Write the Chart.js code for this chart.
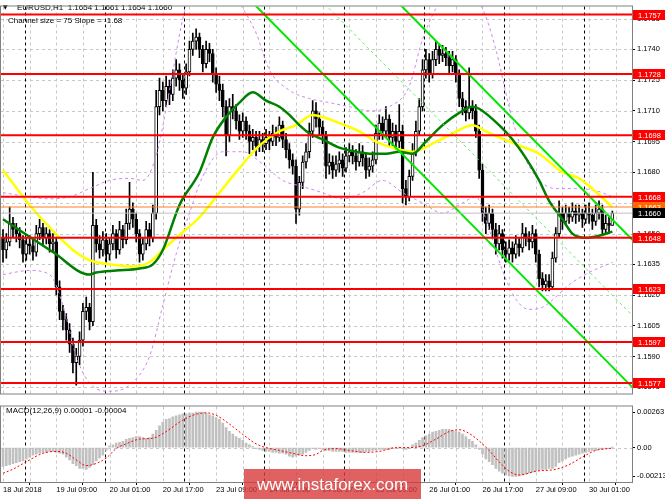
<!DOCTYPE html>
<html>
<head>
<meta charset="utf-8">
<script src="https://cdn.jsdelivr.net/npm/chart.js@4.4.0/dist/chart.umd.min.js"></script>
<style>
  html, body { margin: 0; padding: 0; background: #fff; }
  #wrap { position: relative; width: 665px; height: 499px; overflow: hidden; }
  #main { position: absolute; left: 0; top: 0; }
  #macd { position: absolute; left: 0; top: 400px; }
  #mark { position: absolute; left: 244px; top: 469px; width: 177px; height: 30px;
          background: rgba(216, 58, 58, 0.8); color: #fff; text-align: center;
          font: 17px "Liberation Sans", Arial, sans-serif; line-height: 32px; }
</style>
</head>
<body>
<div id="wrap">
  <canvas id="main" width="665" height="400"></canvas>
  <canvas id="macd" width="665" height="99"></canvas>
  <div id="mark">www.instaforex.com</div>
</div>
<script>
// EURUSD H1, 18 Jul 17:00 .. 30 Jul 08:00, one entry per bar
const open = [
  1.1648, 1.1642, 1.1646, 1.1655, 1.1652, 1.1650, 1.1647, 1.1640,
  1.1645, 1.1644, 1.1641, 1.1650, 1.1653, 1.1648, 1.1650, 1.1645,
  1.1646, 1.1624, 1.1612, 1.1608, 1.1603, 1.1596, 1.1587, 1.1590,
  1.1598, 1.1612, 1.1614, 1.1607, 1.1654, 1.1645, 1.1642, 1.1647,
  1.1640, 1.1645, 1.1650, 1.1642, 1.1652, 1.1647, 1.1655, 1.1662,
  1.1657, 1.1650, 1.1640, 1.1645, 1.1652, 1.1648, 1.1660, 1.1712,
  1.1720, 1.1715, 1.1722, 1.1718, 1.1726, 1.1730, 1.1725, 1.1721,
  1.1729, 1.1740, 1.1744, 1.1746, 1.1740, 1.1733, 1.1740, 1.1738,
  1.1728, 1.1723, 1.1720, 1.1712, 1.1698, 1.1712, 1.1710, 1.1705,
  1.1700, 1.1705, 1.1700, 1.1695, 1.1697, 1.1693, 1.1696, 1.1694,
  1.1697, 1.1695, 1.1699, 1.1697, 1.1703, 1.1696, 1.1691, 1.1686,
  1.1683, 1.1662, 1.1675, 1.1685, 1.1690, 1.1700, 1.1710, 1.1706,
  1.1702, 1.1698, 1.1683, 1.1685, 1.1681, 1.1684, 1.1686, 1.1682,
  1.1688, 1.1690, 1.1688, 1.1685, 1.1690, 1.1687, 1.1681, 1.1683,
  1.1686, 1.1699, 1.1704, 1.1700, 1.1706, 1.1697, 1.1700, 1.1695,
  1.1700, 1.1672, 1.1668, 1.1678, 1.1690, 1.1700, 1.1712, 1.1730,
  1.1735, 1.1728, 1.1735, 1.1740, 1.1737, 1.1738, 1.1736, 1.1732,
  1.1735, 1.1728, 1.1716, 1.1712, 1.1709, 1.1712, 1.1710, 1.1700,
  1.1681, 1.1660, 1.1655, 1.1660, 1.1652, 1.1645, 1.1650, 1.1642,
  1.1640, 1.1643, 1.1640, 1.1645, 1.1643, 1.1650, 1.1648, 1.1646,
  1.1650, 1.1640, 1.1628, 1.1625, 1.1627, 1.1624, 1.1638, 1.1650,
  1.1660, 1.1656, 1.1660, 1.1658, 1.1661, 1.1659, 1.1660, 1.1657,
  1.1660, 1.1659, 1.1656, 1.1660, 1.1662, 1.1652, 1.1655, 1.1654
];
const high = [
  1.1652, 1.1650, 1.1663, 1.1658, 1.1655, 1.1653, 1.1649, 1.1648,
  1.1649, 1.1647, 1.1654, 1.1657, 1.1655, 1.1653, 1.1652, 1.1650,
  1.1648, 1.1627, 1.1615, 1.1611, 1.1606, 1.1599, 1.1594, 1.1602,
  1.1616, 1.1619, 1.1616, 1.1680, 1.1657, 1.1649, 1.1651, 1.1650,
  1.1648, 1.1654, 1.1652, 1.1656, 1.1654, 1.1662, 1.1675, 1.1665,
  1.1660, 1.1652, 1.1648, 1.1656, 1.1655, 1.1664, 1.1720, 1.1726,
  1.1724, 1.1727, 1.1725, 1.1730, 1.1735, 1.1733, 1.1728, 1.1733,
  1.1744, 1.1748, 1.1750, 1.1748, 1.1742, 1.1744, 1.1743, 1.1740,
  1.1731, 1.1727, 1.1723, 1.1715, 1.1716, 1.1718, 1.1713, 1.1708,
  1.1709, 1.1707, 1.1703, 1.1701, 1.1700, 1.1700, 1.1699, 1.1701,
  1.1700, 1.1703, 1.1702, 1.1707, 1.1705, 1.1699, 1.1694, 1.1689,
  1.1686, 1.1678, 1.1688, 1.1694, 1.1704, 1.1715, 1.1714, 1.1709,
  1.1705, 1.1700, 1.1689, 1.1688, 1.1688, 1.1690, 1.1689, 1.1692,
  1.1694, 1.1693, 1.1691, 1.1694, 1.1693, 1.1689, 1.1687, 1.1690,
  1.1703, 1.1708, 1.1707, 1.1712, 1.1708, 1.1704, 1.1703, 1.1713,
  1.1703, 1.1676, 1.1681, 1.1694, 1.1705, 1.1716, 1.1735, 1.1740,
  1.1738, 1.1739, 1.1744, 1.1742, 1.1742, 1.1741, 1.1739, 1.1739,
  1.1737, 1.1730, 1.1719, 1.1715, 1.1731, 1.1715, 1.1713, 1.1703,
  1.1684, 1.1663, 1.1664, 1.1662, 1.1655, 1.1654, 1.1652, 1.1646,
  1.1647, 1.1646, 1.1649, 1.1648, 1.1655, 1.1653, 1.1651, 1.1654,
  1.1652, 1.1642, 1.1631, 1.1630, 1.1630, 1.1641, 1.1653, 1.1666,
  1.1663, 1.1664, 1.1663, 1.1665, 1.1664, 1.1664, 1.1662, 1.1664,
  1.1665, 1.1662, 1.1664, 1.1666, 1.1664, 1.1659, 1.1658, 1.1661
];
const low = [
  1.1636, 1.1638, 1.1644, 1.1648, 1.1646, 1.1643, 1.1636, 1.1637,
  1.1640, 1.1637, 1.1639, 1.1647, 1.1644, 1.1645, 1.1641, 1.1641,
  1.1620, 1.1608, 1.1603, 1.1598, 1.1592, 1.1582, 1.1576, 1.1586,
  1.1595, 1.1608, 1.1603, 1.1605, 1.1641, 1.1638, 1.1639, 1.1636,
  1.1637, 1.1642, 1.1638, 1.1640, 1.1643, 1.1645, 1.1652, 1.1653,
  1.1646, 1.1636, 1.1637, 1.1642, 1.1644, 1.1646, 1.1657, 1.1708,
  1.1710, 1.1712, 1.1713, 1.1715, 1.1722, 1.1720, 1.1716, 1.1718,
  1.1727, 1.1737, 1.1740, 1.1736, 1.1729, 1.1731, 1.1734, 1.1724,
  1.1719, 1.1715, 1.1707, 1.1688, 1.1695, 1.1706, 1.1701, 1.1696,
  1.1697, 1.1696, 1.1689, 1.1691, 1.1688, 1.1690, 1.1690, 1.1691,
  1.1691, 1.1693, 1.1693, 1.1695, 1.1692, 1.1687, 1.1682, 1.1679,
  1.1655, 1.1659, 1.1672, 1.1682, 1.1687, 1.1697, 1.1702, 1.1698,
  1.1694, 1.1677, 1.1679, 1.1677, 1.1678, 1.1680, 1.1678, 1.1680,
  1.1685, 1.1684, 1.1681, 1.1683, 1.1683, 1.1677, 1.1678, 1.1680,
  1.1684, 1.1696, 1.1696, 1.1697, 1.1693, 1.1693, 1.1691, 1.1692,
  1.1665, 1.1664, 1.1666, 1.1676, 1.1688, 1.1698, 1.1710, 1.1726,
  1.1724, 1.1726, 1.1732, 1.1733, 1.1734, 1.1732, 1.1728, 1.1729,
  1.1724, 1.1712, 1.1708, 1.1705, 1.1706, 1.1706, 1.1697, 1.1677,
  1.1656, 1.1650, 1.1652, 1.1648, 1.1640, 1.1642, 1.1638, 1.1636,
  1.1637, 1.1636, 1.1638, 1.1639, 1.1641, 1.1644, 1.1642, 1.1643,
  1.1636, 1.1624, 1.1622, 1.1622, 1.1622, 1.1623, 1.1636, 1.1648,
  1.1652, 1.1654, 1.1655, 1.1656, 1.1655, 1.1656, 1.1653, 1.1655,
  1.1655, 1.1652, 1.1654, 1.1657, 1.1649, 1.1650, 1.1650, 1.1654
];
const close = [
  1.1642, 1.1646, 1.1655, 1.1652, 1.1650, 1.1647, 1.1640, 1.1645,
  1.1644, 1.1641, 1.1650, 1.1653, 1.1648, 1.1650, 1.1645, 1.1646,
  1.1624, 1.1612, 1.1608, 1.1603, 1.1596, 1.1587, 1.1590, 1.1598,
  1.1612, 1.1614, 1.1607, 1.1654, 1.1645, 1.1642, 1.1647, 1.1640,
  1.1645, 1.1650, 1.1642, 1.1652, 1.1647, 1.1655, 1.1662, 1.1657,
  1.1650, 1.1640, 1.1645, 1.1652, 1.1648, 1.1660, 1.1712, 1.1720,
  1.1715, 1.1722, 1.1718, 1.1726, 1.1730, 1.1725, 1.1721, 1.1729,
  1.1740, 1.1744, 1.1746, 1.1740, 1.1733, 1.1740, 1.1738, 1.1728,
  1.1723, 1.1720, 1.1712, 1.1698, 1.1712, 1.1710, 1.1705, 1.1700,
  1.1705, 1.1700, 1.1695, 1.1697, 1.1693, 1.1696, 1.1694, 1.1697,
  1.1695, 1.1699, 1.1697, 1.1703, 1.1696, 1.1691, 1.1686, 1.1683,
  1.1662, 1.1675, 1.1685, 1.1690, 1.1700, 1.1710, 1.1706, 1.1702,
  1.1698, 1.1683, 1.1685, 1.1681, 1.1684, 1.1686, 1.1682, 1.1688,
  1.1690, 1.1688, 1.1685, 1.1690, 1.1687, 1.1681, 1.1683, 1.1686,
  1.1699, 1.1704, 1.1700, 1.1706, 1.1697, 1.1700, 1.1695, 1.1700,
  1.1672, 1.1668, 1.1678, 1.1690, 1.1700, 1.1712, 1.1730, 1.1735,
  1.1728, 1.1735, 1.1740, 1.1737, 1.1738, 1.1736, 1.1732, 1.1735,
  1.1728, 1.1716, 1.1712, 1.1709, 1.1712, 1.1710, 1.1700, 1.1681,
  1.1660, 1.1655, 1.1660, 1.1652, 1.1645, 1.1650, 1.1642, 1.1640,
  1.1643, 1.1640, 1.1645, 1.1643, 1.1650, 1.1648, 1.1646, 1.1650,
  1.1640, 1.1628, 1.1625, 1.1627, 1.1624, 1.1638, 1.1650, 1.1660,
  1.1656, 1.1660, 1.1658, 1.1661, 1.1659, 1.1660, 1.1657, 1.1660,
  1.1659, 1.1656, 1.1660, 1.1662, 1.1652, 1.1655, 1.1654, 1.1660
];

// moving averages at these bars
const slowMaBars = [0, 8, 14, 21, 26, 32, 39, 44, 48, 52, 59, 65, 71, 77, 83, 88, 93, 96, 101, 107, 112, 117, 123, 129, 134, 141, 145, 149, 155, 161, 168, 173, 179, 183];
const slowMa = [1.1681, 1.1664, 1.1653, 1.1642, 1.1637, 1.1635, 1.1634, 1.1636, 1.1642, 1.1648, 1.1658, 1.1670, 1.1682, 1.1693, 1.1700, 1.1703, 1.1708, 1.1707, 1.1704, 1.1700, 1.1695, 1.1692, 1.1690, 1.1694, 1.1698, 1.1703, 1.1700, 1.1697, 1.1693, 1.1689, 1.1680, 1.1677, 1.1669, 1.1663];
const fastMaBars = [0, 15, 26, 28, 34, 41, 45, 48, 53, 59, 63, 67, 71, 75, 79, 83, 86, 89, 92, 96, 101, 106, 111, 115, 119, 123, 127, 132, 137, 141, 143, 149, 153, 157, 161, 164, 168, 171, 175, 179, 183];
const fastMa = [1.1657, 1.1641, 1.1630, 1.1631, 1.1632, 1.1633, 1.1635, 1.1642, 1.1664, 1.1680, 1.1697, 1.1707, 1.1714, 1.1719, 1.1715, 1.1712, 1.1708, 1.1703, 1.1699, 1.1696, 1.1692, 1.1690, 1.1689, 1.1689, 1.1690, 1.1689, 1.1695, 1.1703, 1.1709, 1.1712, 1.1711, 1.1703, 1.1696, 1.1687, 1.1676, 1.1666, 1.1657, 1.1650, 1.1648, 1.1649, 1.1651];

// bands (dashed violet)
const upperBandBars = [0, 8, 14, 20, 26, 32, 38, 42, 46, 50, 54, 58, 64, 70, 76, 80, 86, 92, 98, 104, 110, 116, 122, 126, 132, 138, 144, 148, 152, 156, 160, 166, 172, 178, 183];
const upperBand = [1.1670, 1.1668, 1.1667, 1.1668, 1.1672, 1.1676, 1.1677, 1.1676, 1.1688, 1.1720, 1.1755, 1.1775, 1.1778, 1.1765, 1.1748, 1.1730, 1.1720, 1.1716, 1.1714, 1.1712, 1.1710, 1.1712, 1.1722, 1.1745, 1.1765, 1.1770, 1.1760, 1.1740, 1.1712, 1.1690, 1.1678, 1.1672, 1.1672, 1.1671, 1.1668];
const lowerBandBars = [0, 8, 14, 18, 22, 26, 32, 38, 44, 48, 52, 56, 60, 66, 72, 78, 84, 90, 96, 102, 108, 114, 120, 126, 132, 138, 142, 146, 150, 154, 158, 162, 166, 170, 176, 183];
const lowerBand = [1.1630, 1.1632, 1.1630, 1.1615, 1.1590, 1.1577, 1.1573, 1.1576, 1.1590, 1.1615, 1.1640, 1.1660, 1.1678, 1.1690, 1.1690, 1.1684, 1.1676, 1.1673, 1.1670, 1.1667, 1.1670, 1.1676, 1.1670, 1.1665, 1.1660, 1.1665, 1.1668, 1.1652, 1.1632, 1.1618, 1.1613, 1.1614, 1.1619, 1.1625, 1.1631, 1.1636];

// regression channel, size 75, slope -1.68
const channelBars = [70, 189];
const channelUpper = [1.1843, 1.1647];
const channelMiddle = [1.1806, 1.1610];
const channelLower = [1.1771, 1.1575];

// horizontal levels
const levels = [1.1757, 1.1728, 1.1698, 1.1668, 1.1648, 1.1623, 1.1597, 1.1577];
const askLevel = 1.1663;
const bidLevel = 1.1660;

// MACD(12,26,9)
const macdHist = [
  -0.00140, -0.00133, -0.00126, -0.00119, -0.00112, -0.00105, -0.00098, -0.00084,
  -0.00070, -0.00056, -0.00049, -0.00042, -0.00035, -0.00035, -0.00028, -0.00028,
  -0.00035, -0.00042, -0.00049, -0.00070, -0.00091, -0.00119, -0.00133, -0.00154,
  -0.00154, -0.00161, -0.00147, -0.00126, -0.00098, -0.00077, -0.00056, -0.00021,
  0.00014, 0.00020, 0.00034, 0.00040, 0.00047, 0.00061, 0.00068, 0.00074,
  0.00081, 0.00081, 0.00074, 0.00068, 0.00074, 0.00101, 0.00128, 0.00162,
  0.00189, 0.00209, 0.00216, 0.00229, 0.00236, 0.00243, 0.00250, 0.00250,
  0.00256, 0.00256, 0.00263, 0.00263, 0.00263, 0.00256, 0.00243, 0.00236,
  0.00223, 0.00209, 0.00182, 0.00148, 0.00121, 0.00101, 0.00081, 0.00068,
  0.00054, 0.00034, 0.00020, 0.00007, -0.00007, -0.00014, -0.00021, -0.00028,
  -0.00028, -0.00035, -0.00035, -0.00042, -0.00042, -0.00049, -0.00063, -0.00070,
  -0.00063, -0.00056, -0.00049, -0.00035, -0.00021, -0.00007, -0.00014, -0.00007,
  -0.00014, -0.00021, -0.00021, -0.00028, -0.00028, -0.00028, -0.00028, -0.00035,
  -0.00035, -0.00035, -0.00035, -0.00035, -0.00035, -0.00028, -0.00028, -0.00021,
  -0.00021, -0.00014, -0.00014, -0.00014, -0.00014, -0.00007, -0.00007, 0.00002,
  -0.00007, -0.00014, -0.00007, 0.00020, 0.00034, 0.00054, 0.00074, 0.00088,
  0.00101, 0.00115, 0.00121, 0.00128, 0.00135, 0.00135, 0.00135, 0.00128,
  0.00121, 0.00115, 0.00101, 0.00081, 0.00061, 0.00047, 0.00020, -0.00014,
  -0.00049, -0.00084, -0.00105, -0.00126, -0.00154, -0.00175, -0.00189, -0.00203,
  -0.00210, -0.00213, -0.00213, -0.00210, -0.00203, -0.00196, -0.00189, -0.00182,
  -0.00175, -0.00168, -0.00161, -0.00161, -0.00154, -0.00154, -0.00140, -0.00112,
  -0.00098, -0.00084, -0.00070, -0.00063, -0.00056, -0.00049, -0.00042, -0.00035,
  -0.00028, -0.00021, -0.00021, -0.00014, -0.00014, -0.00007, -0.00007, 0.00001
];
const signalBars = [0, 3, 7, 12, 16, 19, 22, 25, 27, 31, 34, 37, 41, 45, 49, 53, 57, 61, 64, 68, 72, 76, 79, 83, 87, 91, 94, 96, 100, 104, 109, 113, 118, 122, 126, 130, 134, 137, 140, 143, 146, 149, 152, 155, 160, 166, 170, 174, 178, 183];
const signal = [-0.00190, -0.00160, -0.00105, -0.00042, -0.00028, -0.00042, -0.00091, -0.00133, -0.00126, -0.00077, -0.00007, 0.00028, 0.00063, 0.00070, 0.00119, 0.00189, 0.00240, 0.00258, 0.00240, 0.00175, 0.00098, 0.00028, 0.00000, -0.00021, -0.00042, -0.00060, -0.00050, -0.00021, -0.00007, -0.00021, -0.00035, -0.00028, 0.00000, 0.00000, 0.00014, 0.00063, 0.00119, 0.00133, 0.00105, 0.00049, -0.00021, -0.00105, -0.00175, -0.00203, -0.00175, -0.00161, -0.00126, -0.00070, -0.00021, -0.00004];

// axes
const priceTicks = [1.1755, 1.1740, 1.1725, 1.1710, 1.1695, 1.1680, 1.1665, 1.1650, 1.1635, 1.1620, 1.1605, 1.1590, 1.1575];
const macdTicks = [0.00263, 0, -0.00213];
const timeTickBars = [0, 16, 32, 48, 64, 80, 96, 112, 128, 144, 160, 176];
const timeTickLabels = ["18 Jul 2018", "19 Jul 09:00", "20 Jul 01:00", "20 Jul 17:00", "23 Jul 09:00", "24 Jul 01:00",
                        "24 Jul 17:00", "25 Jul 09:00", "26 Jul 01:00", "26 Jul 17:00", "27 Jul 09:00", "30 Jul 01:00"];
const daySeparatorBars = [7, 31, 55, 79, 103, 127, 151, 175];

const X_MIN = -0.9, X_MAX = 188.9;
const FONT = '"Liberation Sans", Arial, sans-serif';
Chart.defaults.font.family = FONT;
Chart.defaults.font.size = 7.5;
Chart.defaults.color = '#000';

const pts = (xs, ys) => xs.map((x, i) => ({ x: x, y: ys[i] }));
const flat = v => [{ x: X_MIN - 1, y: v }, { x: X_MAX + 1, y: v }];

function lineSet(data, color, width, dash, order, smooth) {
  return {
    type: 'line', data: data, borderColor: color, borderWidth: width,
    borderDash: dash || [], pointRadius: 0, fill: false, order: order,
    cubicInterpolationMode: smooth ? 'monotone' : 'default', tension: 0
  };
}

// dashed grid, day separators and the panel frame
function gridPlugin(hValues) {
  return {
    id: 'mtGrid',
    beforeDatasetsDraw(chart) {
      const { ctx, chartArea: a, scales: { x, y } } = chart;
      ctx.save();
      ctx.lineWidth = 1;
      ctx.setLineDash([3, 3]);
      ctx.strokeStyle = '#c8c8c8';
      hValues.forEach(v => {
        const py = Math.round(y.getPixelForValue(v)) + 0.5;
        ctx.beginPath(); ctx.moveTo(a.left, py); ctx.lineTo(a.right, py); ctx.stroke();
      });
      for (let b = 0; b <= 184; b += 8) {
        const px = Math.round(x.getPixelForValue(b)) + 0.5;
        ctx.beginPath(); ctx.moveTo(px, a.top); ctx.lineTo(px, a.bottom); ctx.stroke();
      }
      ctx.strokeStyle = '#000';
      daySeparatorBars.forEach(b => {
        const px = Math.round(x.getPixelForValue(b - 0.5)) + 0.5;
        ctx.beginPath(); ctx.moveTo(px, a.top); ctx.lineTo(px, a.bottom); ctx.stroke();
      });
      ctx.restore();
    },
    afterDraw(chart) {
      const { ctx, chartArea: a } = chart;
      ctx.save();
      ctx.strokeStyle = '#808080';
      ctx.lineWidth = 1;
      ctx.strokeRect(0.5, a.top - 0.5, a.right, a.bottom - a.top + 1);
      ctx.restore();
    }
  };
}

const headerPlugin = {
  id: 'header',
  beforeDatasetsDraw(chart) {
    const ctx = chart.ctx;
    ctx.save();
    ctx.fillStyle = '#000';
    ctx.textBaseline = 'middle';
    ctx.font = '6px "DejaVu Sans"';
    ctx.fillText('\u25BC', 3, 7.5);
    ctx.font = '8px ' + FONT;
    ctx.fillText('EURUSD,H1  1.1654 1.1661 1.1654 1.1660', 17, 8);
    ctx.fillText('Channel size = 75 Slope = -1.68', 8, 20.5);
    ctx.restore();
  }
};

const levelBoxPlugin = {
  id: 'levelBoxes',
  afterDraw(chart) {
    const { ctx, chartArea: a, scales: { y } } = chart;
    const x0 = a.right + 1;
    ctx.save();
    ctx.font = '7.5px ' + FONT;
    ctx.textBaseline = 'middle';
    const box = (v, fill) => {
      const py = Math.round(y.getPixelForValue(v));
      ctx.fillStyle = fill;
      ctx.fillRect(x0, py - 5, 665 - x0, 10);
      ctx.fillStyle = '#fff';
      ctx.fillText(v.toFixed(4), x0 + 5, py + 0.5);
    };
    levels.forEach(v => box(v, '#ff0000'));
    box(askLevel, '#ff6a00');
    box(bidLevel, '#000000');
    ctx.restore();
  }
};

const macdLabelPlugin = {
  id: 'macdLabel',
  beforeDatasetsDraw(chart) {
    const ctx = chart.ctx;
    ctx.save();
    ctx.fillStyle = '#000';
    ctx.textBaseline = 'middle';
    ctx.font = '8px ' + FONT;
    ctx.fillText('MACD(12,26,9) 0.00001 -0.00004', 6, 10.5);
    ctx.restore();
  }
};

const wickData = high.map((h, i) => ({ x: i, y: [low[i], h] }));
const bodyData = open.map((o, i) => ({ x: i, y: [o, close[i]] }));
const bodyFill = open.map((o, i) => close[i] >= o ? '#ffffff' : '#000000');

const mainSets = [
  ...levels.map(v => lineSet(flat(v), '#ff0000', 2, null, 1)),
  lineSet(flat(askLevel), '#ff7f27', 1, null, 2),
  lineSet(flat(bidLevel), '#c0c0c0', 1, null, 2),
  lineSet(pts(channelBars, channelUpper), '#00e600', 2, null, 3),
  lineSet(pts(channelBars, channelLower), '#00e600', 2, null, 3),
  lineSet(pts(channelBars, channelMiddle), '#66ee66', 1, [3, 3], 3),
  lineSet(pts(fastMaBars, fastMa), '#008000', 2.5, null, 4, true),
  lineSet(pts(slowMaBars, slowMa), '#ffff00', 2.5, null, 4, true),
  lineSet(pts(upperBandBars, upperBand), '#cc88ee', 1, [3, 3], 5, true),
  lineSet(pts(lowerBandBars, lowerBand), '#cc88ee', 1, [3, 3], 5, true),
  {
    type: 'bar', data: bodyData, backgroundColor: bodyFill, borderColor: '#000',
    borderWidth: 1, borderSkipped: false, barThickness: 3, grouped: false, order: 6
  },
  {
    type: 'bar', data: wickData, backgroundColor: '#000', borderWidth: 0,
    barThickness: 1, grouped: false, order: 7
  }
];

new Chart(document.getElementById('main'), {
  type: 'bar',
  data: { datasets: mainSets },
  options: {
    responsive: false, animation: false, devicePixelRatio: 1,
    layout: { padding: { left: 0, top: 1, right: 0, bottom: 2 } },
    plugins: { legend: { display: false }, tooltip: { enabled: false } },
    scales: {
      x: { type: 'linear', min: X_MIN, max: X_MAX, offset: false, display: false },
      y: {
        type: 'linear', position: 'right', min: 1.15719, max: 1.176095,
        afterFit: s => { s.width = 33; },
        afterBuildTicks: s => { s.ticks = priceTicks.map(v => ({ value: v })); },
        ticks: { callback: v => v.toFixed(4), padding: 2, color: '#000' },
        grid: { drawOnChartArea: false, tickLength: 3, color: '#000' },
        border: { color: '#808080' }
      }
    }
  },
  plugins: [gridPlugin(priceTicks), headerPlugin, levelBoxPlugin]
});

new Chart(document.getElementById('macd'), {
  type: 'bar',
  data: {
    datasets: [
      lineSet(pts(signalBars, signal), '#ff0000', 1, [2, 2], 1, true),
      {
        type: 'bar', data: macdHist.map((v, i) => ({ x: i, y: v })), backgroundColor: '#c0c0c0',
        borderWidth: 0, barThickness: 2, grouped: false, order: 2
      }
    ]
  },
  options: {
    responsive: false, animation: false, devicePixelRatio: 1,
    layout: { padding: { left: 0, top: 2, right: 0, bottom: 0 } },
    plugins: { legend: { display: false }, tooltip: { enabled: false } },
    scales: {
      x: {
        type: 'linear', min: X_MIN, max: X_MAX, offset: false, position: 'bottom',
        afterFit: s => { s.height = 17; },
        afterBuildTicks: s => { s.ticks = timeTickBars.map(v => ({ value: v })); },
        ticks: {
          callback: v => timeTickLabels[timeTickBars.indexOf(v)],
          align: 'start', padding: 0, maxRotation: 0, autoSkip: false, color: '#000'
        },
        grid: { drawOnChartArea: false, tickLength: 3, color: '#000' },
        border: { color: '#808080' }
      },
      y: {
        type: 'linear', position: 'right', min: -0.00255, max: 0.00305,
        afterFit: s => { s.width = 33; },
        afterBuildTicks: s => { s.ticks = macdTicks.map(v => ({ value: v })); },
        ticks: { callback: v => v === 0 ? '0.00' : v.toFixed(5), padding: 2, color: '#000' },
        grid: { drawOnChartArea: false, tickLength: 3, color: '#000' },
        border: { color: '#808080' }
      }
    }
  },
  plugins: [gridPlugin([0]), macdLabelPlugin]
});
</script>
</body>
</html>
